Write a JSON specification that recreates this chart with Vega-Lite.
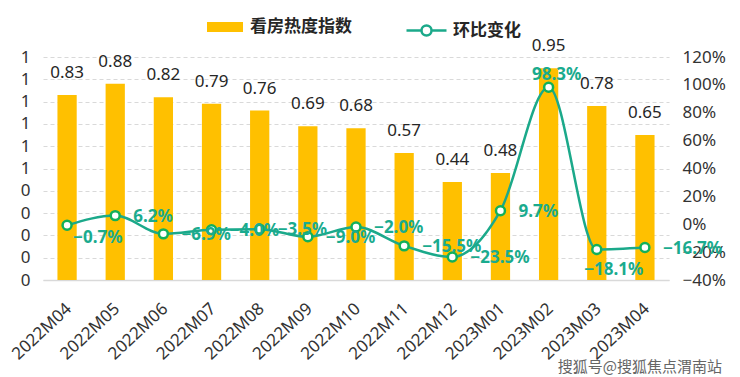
{
  "$schema": "https://vega.github.io/schema/vega-lite/v6.json",
  "width": 626,
  "height": 223,
  "autosize": {"type": "none"},
  "padding": {"left": 43, "top": 57, "right": 71, "bottom": 97},
  "background": "white",
  "config": {
    "view": {"stroke": null},
    "font": "Noto Sans",
    "axis": {"labelFont": "Noto Sans", "labelFontSize": 17, "labelColor": "#333333", "ticks": false, "domain": false, "title": null}
  },
  "title": {
    "text": "搜狐号@搜狐焦点渭南站",
    "orient": "bottom",
    "anchor": "end",
    "frame": "group",
    "font": "Noto Sans CJK SC",
    "fontSize": 15,
    "fontWeight": "normal",
    "color": "#666666",
    "dx": 53,
    "offset": -2
  },
  "data": {
    "values": [
      {"m": "2022M04", "v": 0.83, "p": -0.007},
      {"m": "2022M05", "v": 0.88, "p": 0.062},
      {"m": "2022M06", "v": 0.82, "p": -0.069},
      {"m": "2022M07", "v": 0.79, "p": -0.040},
      {"m": "2022M08", "v": 0.76, "p": -0.035},
      {"m": "2022M09", "v": 0.69, "p": -0.090},
      {"m": "2022M10", "v": 0.68, "p": -0.020},
      {"m": "2022M11", "v": 0.57, "p": -0.155},
      {"m": "2022M12", "v": 0.44, "p": -0.235},
      {"m": "2023M01", "v": 0.48, "p": 0.097},
      {"m": "2023M02", "v": 0.95, "p": 0.983},
      {"m": "2023M03", "v": 0.78, "p": -0.181},
      {"m": "2023M04", "v": 0.65, "p": -0.167}
    ]
  },
  "encoding": {
    "x": {
      "field": "m",
      "type": "nominal",
      "sort": null,
      "scale": {"paddingInner": 0.6, "paddingOuter": 0.3},
      "axis": {"labelAngle": -43, "labelFontSize": 17, "labelBaseline": "middle", "labelAlign": "right", "labelOffset": 2, "domain": true, "domainColor": "#D9D9D9", "domainWidth": 1.5, "labelPadding": 26, "grid": false}
    }
  },
  "layer": [
    {
      "encoding": {
        "y": {
          "field": "v",
          "type": "quantitative",
          "scale": {"domain": [0, 1], "nice": false, "zero": true},
          "axis": {
            "orient": "left",
            "values": [0, 0.1, 0.2, 0.3, 0.4, 0.5, 0.6, 0.7, 0.8, 0.9, 1.0],
            "format": ".0f",
            "labelPadding": 13,
            "grid": true,
            "gridColor": "#D9D9D9",
            "gridDash": [4, 3],
            "gridWidth": 1
          }
        }
      },
      "layer": [
        {
          "mark": {"type": "bar"},
          "encoding": {
            "fill": {
              "datum": "看房热度指数",
              "scale": {"range": ["#FFC000"]},
              "legend": {
                "orient": "none",
                "legendX": 164,
                "legendY": -48,
                "title": null,
                "symbolType": "M-1,-0.28H1V0.28H-1Z",
                "symbolSize": 1296,
                "symbolStrokeWidth": 0,
                "labelFont": "Noto Sans CJK SC",
                "labelFontSize": 17,
                "labelFontWeight": "bold",
                "labelColor": "#262626",
                "labelOffset": 7
              }
            }
          }
        },
        {
          "mark": {"type": "text", "baseline": "bottom", "dy": -13, "fontSize": 17, "color": "#262626", "font": "Noto Sans"},
          "encoding": {"text": {"field": "v", "type": "quantitative", "format": ".2f"}}
        }
      ]
    },
    {
      "encoding": {
        "y": {
          "field": "p",
          "type": "quantitative",
          "scale": {"domain": [-0.4, 1.2], "nice": false, "zero": false},
          "axis": {
            "orient": "right",
            "values": [-0.4, -0.2, 0, 0.2, 0.4, 0.6, 0.8, 1.0, 1.2],
            "format": ".0%",
            "labelPadding": 13,
            "grid": false
          }
        }
      },
      "layer": [
        {
          "mark": {"type": "line", "interpolate": "monotone", "strokeWidth": 2.5},
          "encoding": {
            "stroke": {
              "datum": "环比变化",
              "scale": {"range": ["#1BA98A"]},
              "legend": {
                "orient": "none",
                "legendX": 362,
                "legendY": -48,
                "title": null,
                "symbolType": "M-1,0H-0.25M0.25,0H1M0.25,0A0.25,0.25,0,1,1,-0.25,0A0.25,0.25,0,1,1,0.25,0",
                "symbolSize": 1600,
                "symbolStrokeWidth": 2.5,
                "symbolFillColor": "white",
                "labelFont": "Noto Sans CJK SC",
                "labelFontSize": 17,
                "labelFontWeight": "bold",
                "labelColor": "#262626",
                "labelOffset": 5
              }
            }
          }
        },
        {
          "mark": {"type": "point", "shape": "circle", "size": 80, "filled": true, "fill": "white", "stroke": "#12B05A", "strokeWidth": 2.5, "opacity": 1}
        },
        {
          "transform": [{"filter": "datum.m !== '2022M04' && datum.m !== '2023M02' && datum.m !== '2023M03'"}],
          "mark": {"type": "text", "align": "left", "baseline": "middle", "dx": 18, "dy": 1, "fontSize": 17, "fontWeight": "bold", "color": "#1AAB8E", "font": "Noto Sans"},
          "encoding": {"text": {"field": "p", "type": "quantitative", "format": ".1%"}}
        },
        {
          "transform": [{"filter": "datum.m === '2022M04'"}],
          "mark": {"type": "text", "align": "left", "baseline": "middle", "dx": 6, "dy": 13, "fontSize": 17, "fontWeight": "bold", "color": "#1AAB8E", "font": "Noto Sans"},
          "encoding": {"text": {"field": "p", "type": "quantitative", "format": ".1%"}}
        },
        {
          "transform": [{"filter": "datum.m === '2023M02'"}],
          "mark": {"type": "text", "align": "center", "baseline": "middle", "dx": 8, "dy": -12, "fontSize": 17, "fontWeight": "bold", "color": "#1AAB8E", "font": "Noto Sans"},
          "encoding": {"text": {"field": "p", "type": "quantitative", "format": ".1%"}}
        },
        {
          "transform": [{"filter": "datum.m === '2023M03'"}],
          "mark": {"type": "text", "align": "center", "baseline": "middle", "dx": 17, "dy": 21, "fontSize": 17, "fontWeight": "bold", "color": "#1AAB8E", "font": "Noto Sans"},
          "encoding": {"text": {"field": "p", "type": "quantitative", "format": ".1%"}}
        }
      ]
    }
  ],
  "resolve": {"scale": {"y": "independent", "fill": "independent", "stroke": "independent"}, "legend": {"fill": "independent", "stroke": "independent"}}
}
